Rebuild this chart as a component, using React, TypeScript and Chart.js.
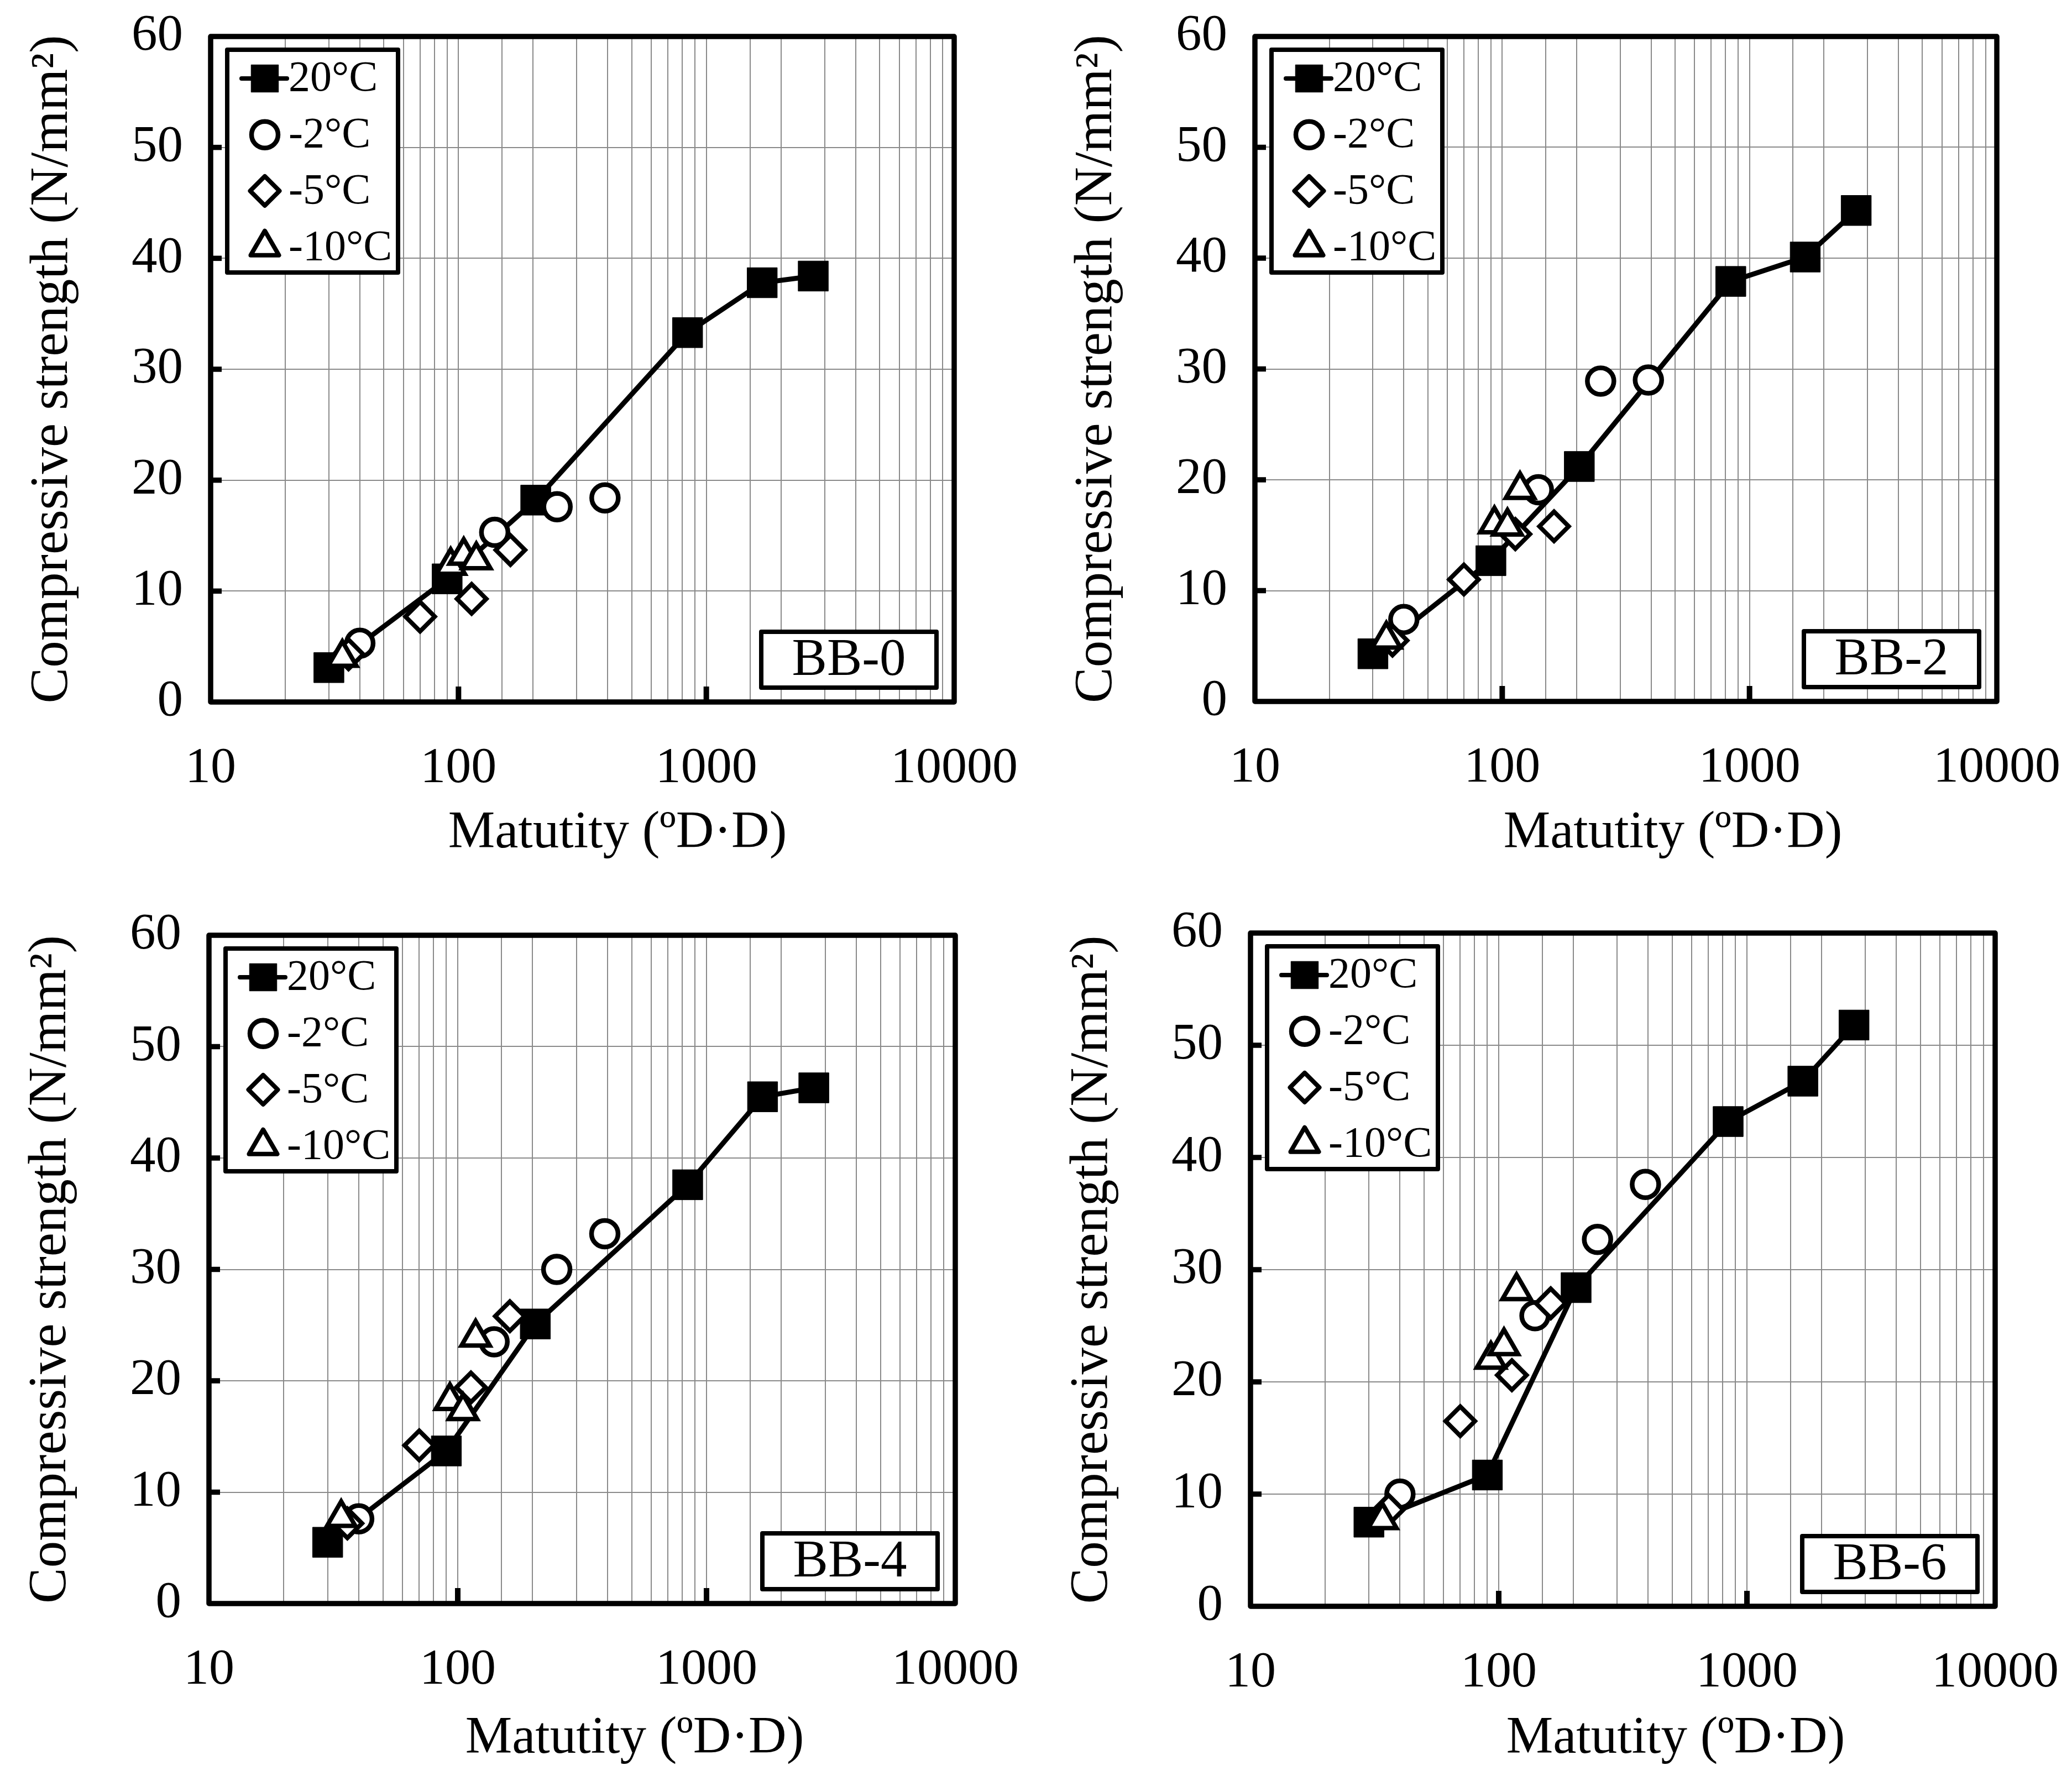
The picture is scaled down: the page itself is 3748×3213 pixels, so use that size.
import React, { useEffect, useRef } from 'react';
import { Chart, registerables } from 'chart.js';
import { drawPoint } from 'chart.js/helpers';

Chart.register(...registerables);

const FONT = "'Liberation Serif', 'Times New Roman', serif";

// ---- data ----
const seriesLabels = ['20°C', '-2°C', '-5°C', '-10°C'];
const panelNames = ['BB-0', 'BB-2', 'BB-4', 'BB-6'];
const xAxisTitle = 'Matutity (ºD·D)';
const yAxisTitle = 'Compressive strength (N/mm²)';
const xTickLabels = [10, 100, 1000, 10000];
const yTickStep = 10;

// maturity (x) for each curing temperature
const x20 = [30, 90, 205, 840, 1680, 2700];
const xM2 = [40, 140, 250, 390];
const xM5 = [36, 70, 113, 162];
const xM10 = [34, 93, 105, 118];

// compressive strength (y)
const bb0_20 = [3.1, 11.1, 18.2, 33.3, 37.8, 38.4];
const bb0_m2 = [5.3, 15.3, 17.6, 18.4];
const bb0_m5 = [4.3, 7.7, 9.3, 13.7];
const bb0_m10 = [4.0, 12.3, 13.2, 12.8];

const bb2_20 = [4.3, 12.7, 21.2, 37.9, 40.1, 44.3];
const bb2_m2 = [7.4, 19.1, 28.9, 29.0];
const bb2_m5 = [5.5, 11.0, 15.1, 15.8];
const bb2_m10 = [5.6, 16.0, 15.8, 19.1];

const bb4_20 = [5.5, 13.7, 25.1, 37.6, 45.5, 46.3];
const bb4_m2 = [7.6, 23.5, 30.0, 33.2];
const bb4_m5 = [7.2, 14.2, 19.4, 25.8];
const bb4_m10 = [7.7, 18.2, 17.3, 23.9];

const bb6_20 = [7.5, 11.7, 28.4, 43.2, 46.8, 51.8];
const bb6_m2 = [10.0, 25.9, 32.7, 37.6];
const bb6_m5 = [8.6, 16.5, 20.6, 27.0];
const bb6_m10 = [7.7, 22.0, 23.2, 28.1];

// ---- layout (pixels) ----
const PW = 1874;
const panels = [
  { name: panelNames[0], ys: [bb0_20, bb0_m2, bb0_m5, bb0_m10], ox: 0, oy: 0, h: 1606, left: 381, right: 1726, top: 66, bottom: 1270, tcx: 1117, tcy: 1508 },
  { name: panelNames[1], ys: [bb2_20, bb2_m2, bb2_m5, bb2_m10], ox: 1874, oy: 0, h: 1606, left: 396, right: 1738, top: 66, bottom: 1269, tcx: 1152, tcy: 1508 },
  { name: panelNames[2], ys: [bb4_20, bb4_m2, bb4_m5, bb4_m10], ox: 0, oy: 1606, h: 1607, left: 378, right: 1728, top: 86, bottom: 1295, tcx: 1148, tcy: 1540 },
  { name: panelNames[3], ys: [bb6_20, bb6_m2, bb6_m5, bb6_m10], ox: 1874, oy: 1606, h: 1607, left: 388, right: 1735, top: 82, bottom: 1300, tcx: 1157, tcy: 1540 },
];

const xs = [x20, xM2, xM5, xM10];
const styles = [
  { pointStyle: 'rect', radius: 38.5, bg: '#000', bw: 1, line: true, order: 3 },
  { pointStyle: 'circle', radius: 24, bg: '#fff', bw: 8.5, line: false, order: 2 },
  { pointStyle: 'rectRot', radius: 26.5, bg: '#fff', bw: 8, line: false, order: 1 },
  { pointStyle: 'triangle', radius: 29.5, bg: '#fff', bw: 8, line: false, order: 0 },
];

const Y_W = 340;
const X_H = 200;

function makeConfig(p: any): any {
  const datasets = seriesLabels.map((label, i) => ({
    label,
    data: xs[i].map((x, j) => ({ x, y: p.ys[i][j] })),
    showLine: styles[i].line,
    borderColor: '#000',
    borderWidth: 9,
    pointStyle: styles[i].pointStyle,
    pointRadius: styles[i].radius,
    pointBackgroundColor: styles[i].bg,
    pointBorderColor: '#000',
    pointBorderWidth: styles[i].bw,
    order: styles[i].order,
    clip: false,
  }));

  const decor = {
    id: 'decor',
    afterDraw(chart: any) {
      const { ctx, chartArea: a } = chart;
      const xs_ = chart.scales.x;
      const ys_ = chart.scales.y;
      ctx.save();
      // frame
      ctx.strokeStyle = '#000';
      ctx.lineWidth = 9.5;
      ctx.lineJoin = 'round';
      ctx.strokeRect(a.left, a.top, a.right - a.left, a.bottom - a.top);
      // inner tick marks
      ctx.lineCap = 'butt';
      for (let v = yTickStep; v < 60; v += yTickStep) {
        const py = ys_.getPixelForValue(v);
        ctx.beginPath();
        ctx.moveTo(a.left, py);
        ctx.lineTo(a.left + 20, py);
        ctx.stroke();
      }
      ctx.lineWidth = 10;
      [100, 1000].forEach((v) => {
        const px = xs_.getPixelForValue(v);
        ctx.beginPath();
        ctx.moveTo(px, a.bottom);
        ctx.lineTo(px, a.bottom - 28);
        ctx.stroke();
      });

      // legend box
      const bx = a.left + 26;
      const by = a.top + 20;
      const bw = 317;
      const bh = 411;
      ctx.fillStyle = '#fff';
      ctx.fillRect(bx, by, bw, bh);
      ctx.lineWidth = 8;
      ctx.strokeStyle = '#000';
      ctx.strokeRect(bx + 4, by + 4, bw - 8, bh - 8);
      chart.data.datasets.forEach((ds: any, i: number) => {
        const cy = by + 56 + i * 101.7;
        const cx = bx + 72;
        if (ds.showLine) {
          ctx.lineWidth = 8;
          ctx.lineCap = 'round';
          ctx.beginPath();
          ctx.moveTo(bx + 30, cy);
          ctx.lineTo(bx + 112, cy);
          ctx.stroke();
        }
        ctx.fillStyle = ds.pointBackgroundColor;
        ctx.strokeStyle = '#000';
        ctx.lineWidth = ds.pointBorderWidth;
        ctx.lineCap = 'butt';
        drawPoint(ctx, { pointStyle: ds.pointStyle, rotation: 0, radius: ds.pointStyle === 'rect' ? 35 : ds.pointRadius, borderWidth: ds.pointBorderWidth } as any, cx, cy);
        ctx.fillStyle = '#000';
        ctx.font = `78px ${FONT}`;
        ctx.textAlign = 'left';
        ctx.textBaseline = 'middle';
        ctx.fillText(ds.label, bx + 115, cy + 2);
      });

      // panel label box
      const lw = 325;
      const lh = 109;
      const lx = a.right - 28 - lw;
      const ly = a.bottom - 22 - lh;
      ctx.fillStyle = '#fff';
      ctx.fillRect(lx, ly, lw, lh);
      ctx.lineWidth = 8;
      ctx.strokeStyle = '#000';
      ctx.strokeRect(lx + 4, ly + 4, lw - 8, lh - 8);
      ctx.fillStyle = '#000';
      ctx.font = `95px ${FONT}`;
      ctx.textAlign = 'center';
      ctx.textBaseline = 'middle';
      ctx.fillText(p.name, lx + lw / 2, ly + lh / 2 + 3);

      // x axis title
      ctx.font = `95px ${FONT}`;
      ctx.fillText(xAxisTitle, p.tcx, p.tcy);
      ctx.restore();
    },
  };

  return {
    type: 'scatter',
    data: { datasets },
    options: {
      animation: false,
      responsive: false,
      devicePixelRatio: 1,
      layout: {
        padding: {
          left: p.left - Y_W,
          right: PW - p.right,
          top: p.top,
          bottom: p.h - p.bottom - X_H,
        },
      },
      plugins: { legend: { display: false }, tooltip: { enabled: false } },
      scales: {
        x: {
          type: 'logarithmic',
          position: 'bottom',
          min: 10,
          max: 10000,
          border: { display: false },
          grid: { color: '#8a8a8a', lineWidth: 2, drawTicks: false },
          ticks: {
            autoSkip: false,
            maxRotation: 0,
            minRotation: 0,
            padding: 66,
            color: '#000',
            font: { family: FONT, size: 92, lineHeight: 1.2 },
            callback: (v: any) => (xTickLabels.includes(Number(v)) ? String(v) : ''),
          },
          afterFit: (s: any) => {
            s.height = X_H;
            s.paddingLeft = 0;
            s.paddingRight = 0;
          },
        },
        y: {
          type: 'linear',
          min: 0,
          max: 60,
          border: { display: false },
          grid: { color: '#8a8a8a', lineWidth: 2, drawTicks: false },
          ticks: {
            stepSize: yTickStep,
            padding: 50,
            color: '#000',
            font: { family: FONT, size: 93, lineHeight: 1.2 },
          },
          title: {
            display: true,
            text: yAxisTitle,
            color: '#000',
            font: { family: FONT, size: 97, lineHeight: 1 },
            padding: { top: 6, bottom: 0 },
          },
          afterFit: (s: any) => {
            s.width = Y_W;
            s.paddingTop = 0;
            s.paddingBottom = 0;
          },
        },
      },
    },
    plugins: [decor],
  };
}

function Panel({ p }: { p: any }) {
  const ref = useRef<HTMLCanvasElement>(null);
  useEffect(() => {
    if (!ref.current) return;
    const chart = new Chart(ref.current, makeConfig(p));
    return () => chart.destroy();
  }, [p]);
  return (
    <canvas
      ref={ref}
      width={PW}
      height={p.h}
      style={{ position: 'absolute', left: p.ox, top: p.oy, width: PW, height: p.h, display: 'block' }}
    />
  );
}

export default function App() {
  return (
    <div style={{ position: 'absolute', left: 0, top: 0, width: 3748, height: 3213, background: '#fff', overflow: 'hidden' }}>
      {panels.map((p) => (
        <Panel key={p.name} p={p} />
      ))}
    </div>
  );
}
